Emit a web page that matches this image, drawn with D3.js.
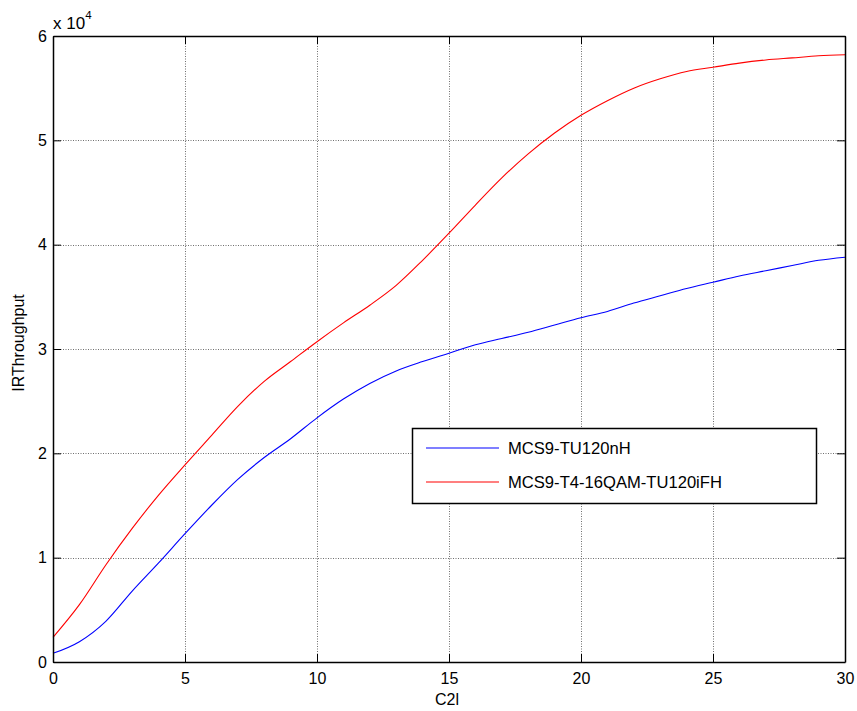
<!DOCTYPE html>
<html>
<head>
<meta charset="utf-8">
<script src="https://cdn.jsdelivr.net/npm/d3@7"></script>
<style>
  html, body { margin: 0; padding: 0; background: #fff; }
  svg { display: block; font-family: "Liberation Sans", Arial, sans-serif; }
</style>
</head>
<body>
<svg id="chart" width="857" height="711"></svg>
<script>
// ---- data ----
const xValues = [0,1,2,3,4,5,6,7,8,9,10,11,12,13,14,15,16,17,18,19,20,21,22,23,24,25,26,27,28,29,30];
const blueValues = [830,1950,3900,6800,9500,12300,15000,17500,19600,21400,23400,25200,26700,27900,28800,29600,30400,31000,31600,32300,33000,33600,34400,35100,35800,36400,37000,37500,38000,38500,38800];
const redValues = [2370,5500,9300,12800,16000,18900,21700,24500,26900,28800,30700,32500,34200,36100,38500,41100,43800,46400,48700,50700,52400,53800,55000,55900,56600,57000,57400,57700,57900,58100,58200];
const seriesNames = ["MCS9-TU120nH", "MCS9-T4-16QAM-TU120iFH"];
const seriesColors = ["#0000ff", "#ff0000"];
const xTicks = [0,5,10,15,20,25,30];
const yTicks = [0,10000,20000,30000,40000,50000,60000];
const yTickLabels = ["0","1","2","3","4","5","6"];
const xLabel = "C2l";
const yLabel = "IRThroughput";

// ---- layout ----
const pL = 53, pR = 845, pT = 36, pB = 662;
const svg = d3.select("#chart");

const x = d3.scaleLinear().domain([0, 30]).range([pL, pR]);
const y = d3.scaleLinear().domain([0, 60000]).range([pB, pT]);

// grid
const grid = svg.append("g").attr("stroke", "#6f6f6f").attr("stroke-width", 1).attr("stroke-dasharray", "1,1.5");
grid.selectAll("line.vx").data(xTicks.slice(1, -1)).enter().append("line")
  .attr("x1", d => Math.round(x(d)) + 0.5).attr("x2", d => Math.round(x(d)) + 0.5)
  .attr("y1", pT).attr("y2", pB);
grid.selectAll("line.hy").data(yTicks.slice(1, -1)).enter().append("line")
  .attr("y1", d => Math.round(y(d)) + 0.5).attr("y2", d => Math.round(y(d)) + 0.5)
  .attr("x1", pL).attr("x2", pR);

// data lines
const line = d3.line().x((d, i) => x(xValues[i])).y(d => y(d)).curve(d3.curveMonotoneX);
[blueValues, redValues].forEach((vals, k) => {
  svg.append("path").datum(vals).attr("d", line)
    .attr("fill", "none").attr("stroke", seriesColors[k]).attr("stroke-width", 1.1);
});

// axes (ticks inside, on all four sides)
const tickLen = 8;
const axB = svg.append("g").attr("transform", `translate(0,${pB})`)
  .call(d3.axisBottom(x).tickValues(xTicks).tickSizeInner(-tickLen).tickSizeOuter(0).tickPadding(11).tickFormat(d3.format("d")));
const axT = svg.append("g").attr("transform", `translate(0,${pT})`)
  .call(d3.axisTop(x).tickValues(xTicks).tickSizeInner(-tickLen).tickSizeOuter(0).tickFormat(""));
const axL = svg.append("g").attr("transform", `translate(${pL},0)`)
  .call(d3.axisLeft(y).tickValues(yTicks).tickSizeInner(-tickLen).tickSizeOuter(0).tickPadding(6).tickFormat((d, i) => yTickLabels[i]));
const axR = svg.append("g").attr("transform", `translate(${pR},0)`)
  .call(d3.axisRight(y).tickValues(yTicks).tickSizeInner(-tickLen).tickSizeOuter(0).tickFormat(""));
[axB, axT, axL, axR].forEach(a => {
  a.select(".domain").attr("stroke", "#000").attr("stroke-width", 1.5);
  a.selectAll(".tick line").attr("stroke", "#000").attr("stroke-width", 1);
  a.selectAll(".tick text").attr("font-size", 16).attr("fill", "#000").attr("font-family", "Liberation Sans, Arial, sans-serif");
});

// exponent label
const expo = svg.append("text").attr("x", 53).attr("y", 29).attr("font-size", 17).attr("fill", "#000");
expo.append("tspan").text("x 10");
expo.append("tspan").attr("font-size", 11.5).attr("dy", -10).text("4");

// axis labels
svg.append("text").attr("x", 447).attr("y", 705).attr("text-anchor", "middle")
  .attr("font-size", 16).attr("fill", "#000").text(xLabel);
svg.append("text").attr("transform", `translate(24,343) rotate(-90)`)
  .attr("text-anchor", "middle").attr("font-size", 16).attr("fill", "#000").text(yLabel);

// legend
const lg = svg.append("g");
lg.append("rect").attr("x", 412.5).attr("y", 428.5).attr("width", 404).attr("height", 75)
  .attr("fill", "#fff").attr("stroke", "#000").attr("stroke-width", 1.5);
seriesNames.forEach((name, i) => {
  const yy = 448 + i * 34;
  lg.append("line").attr("x1", 426).attr("x2", 499).attr("y1", yy).attr("y2", yy)
    .attr("stroke", seriesColors[i]).attr("stroke-width", 1.1);
  lg.append("text").attr("x", 508).attr("y", yy + 6).attr("font-size", 16.6).attr("fill", "#000").text(name);
});
</script>
</body>
</html>
